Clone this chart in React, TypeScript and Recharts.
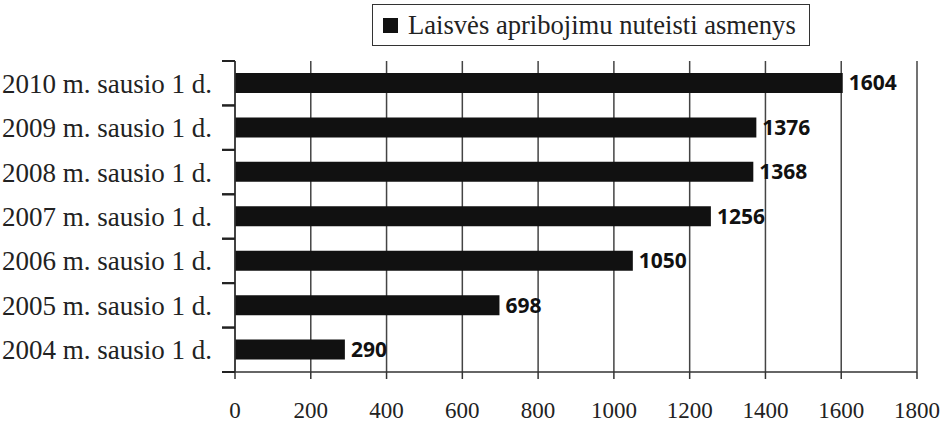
import React from 'react';
import { BarChart, Bar, XAxis, YAxis, CartesianGrid, LabelList } from 'recharts';

const categories = [
    '2010 m. sausio 1 d.',
    '2009 m. sausio 1 d.',
    '2008 m. sausio 1 d.',
    '2007 m. sausio 1 d.',
    '2006 m. sausio 1 d.',
    '2005 m. sausio 1 d.',
    '2004 m. sausio 1 d.',
];
const values = [1604, 1376, 1368, 1256, 1050, 698, 290];
const xTicks = [0, 200, 400, 600, 800, 1000, 1200, 1400, 1600, 1800];
const seriesName = 'Laisvės apribojimu nuteisti asmenys';

const data = categories.map((name, i) => ({ name, value: values[i] }));

const serif = '"Liberation Serif", "Times New Roman", serif';

// label plus tick marks on the category boundaries
const CategoryTick = (props: any) => {
    const { x, y, payload } = props;
    const half = 311 / categories.length / 2;
    return (
        <g>
            <rect x={x - 5} y={y - half - 1} width={13} height={2} fill="#222" />
            <rect x={x - 5} y={y + half - 1} width={13} height={2} fill="#222" />
            <text x={x - 15} y={y} dy="0.35em" textAnchor="end" fontFamily={serif} fontSize={27} fill="#222">
                {payload.value}
            </text>
        </g>
    );
};

const LegendBox = () => (
    <div
        style={{
            position: 'absolute',
            top: 4,
            left: 372,
            border: '1.5px solid #333',
            width: 438,
            height: 42,
            boxSizing: 'border-box',
            display: 'flex',
            alignItems: 'center',
            paddingLeft: 10,
            fontFamily: serif,
            fontSize: 26.6,
            color: '#222',
            background: '#fff',
            whiteSpace: 'nowrap',
        }}
    >
        <span style={{ display: 'inline-block', width: 15, height: 15, background: '#111', marginRight: 10 }} />
        {seriesName}
    </div>
);

export default function App() {
    return (
        <div style={{ position: 'absolute', top: 0, left: 0, width: 943, height: 424, background: '#fff' }}>
            <BarChart
                width={943}
                height={424}
                data={data}
                layout="vertical"
                margin={{ top: 61, right: 26, left: 0, bottom: 0 }}
            >
                <CartesianGrid horizontal={false} stroke="#444" strokeWidth={1.5} />
                <XAxis
                    type="number"
                    domain={[0, 1800]}
                    ticks={xTicks}
                    height={52}
                    tickSize={7}
                    tickMargin={23}
                    axisLine={{ stroke: '#333', strokeWidth: 1.5 }}
                    tickLine={{ stroke: '#333', strokeWidth: 1.5 }}
                    tick={{ fill: '#222', fontSize: 23, fontFamily: serif }}
                    interval={0}
                />
                <XAxis
                    xAxisId="top"
                    orientation="top"
                    type="number"
                    domain={[0, 1800]}
                    height={0}
                    tick={false}
                    tickLine={false}
                    axisLine={{ stroke: '#999', strokeWidth: 1.5 }}
                />
                <YAxis
                    type="category"
                    dataKey="name"
                    width={235}
                    tickLine={false}
                    axisLine={{ stroke: '#333', strokeWidth: 1.5 }}
                    tick={<CategoryTick />}
                    interval={0}
                />
                <Bar dataKey="value" name={seriesName} fill="#111" barSize={20} isAnimationActive={false}>
                    <LabelList
                        dataKey="value"
                        position="right"
                        offset={6}
                        style={{ fontFamily: '"Open Sans", sans-serif', fontWeight: 700, fontSize: 21, fill: '#111' }}
                    />
                </Bar>
            </BarChart>
            <LegendBox />
        </div>
    );
}
